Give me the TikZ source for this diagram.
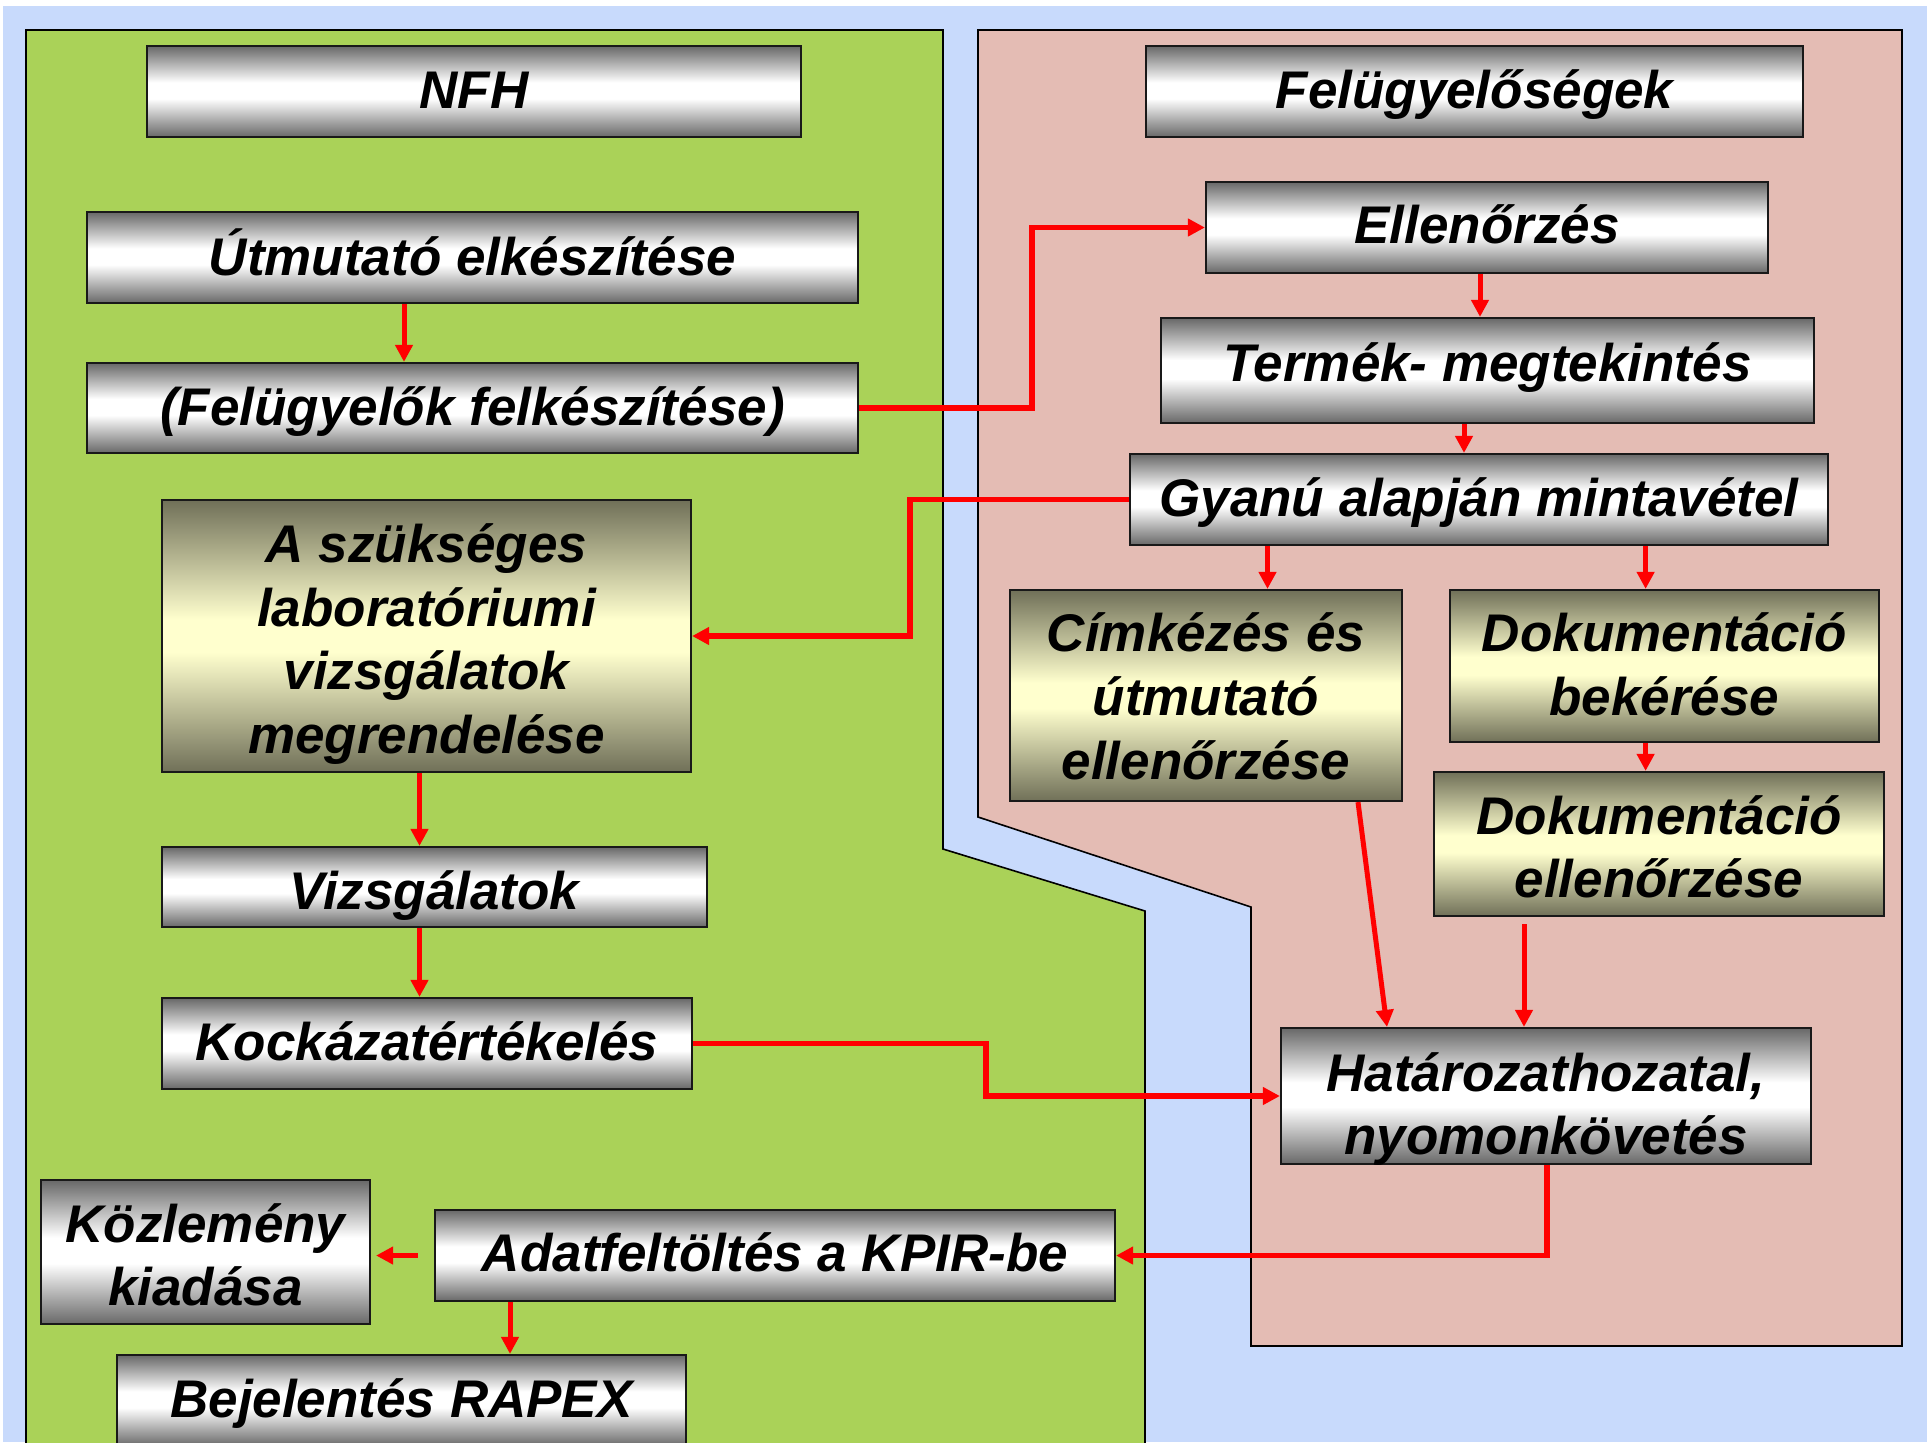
\documentclass[tikz,border=0pt]{standalone}
\usepackage{fontspec}
\setmainfont{Liberation Sans}
\usetikzlibrary{arrows.meta}
\definecolor{bgblue}{RGB}{200,218,252}
\definecolor{panelgreen}{RGB}{170,210,88}
\definecolor{panelpink}{RGB}{228,188,180}
\definecolor{mgray}{RGB}{104,104,104}
\definecolor{molive}{RGB}{112,112,88}
\definecolor{myellow}{RGB}{255,255,206}
\definecolor{arrowred}{RGB}{255,0,0}
\pgfdeclareverticalshading{metal}{100bp}{color(0bp)=(mgray); color(25bp)=(mgray); color(46bp)=(white); color(55bp)=(white); color(75bp)=(mgray); color(100bp)=(mgray)}
\pgfdeclareverticalshading{olivesh}{100bp}{color(0bp)=(molive); color(25bp)=(molive); color(47bp)=(myellow); color(53bp)=(myellow); color(75bp)=(molive); color(100bp)=(molive)}
\tikzset{
  gbox/.style={draw=black!90, line width=1.1pt, inner sep=0pt, shade, shading=metal},
  obox/.style={draw=black!90, line width=1.1pt, inner sep=0pt, shade, shading=olivesh},
  lbl/.style={font=\fontsize{26.5}{32}\selectfont\bfseries\itshape, inner sep=0pt, anchor=base},
  conn/.style={draw=arrowred, line width=2.9pt, -{Triangle[length=8.5pt,width=8.5pt]}},
  thinconn/.style={conn, line width=2.5pt},
  panel/.style={draw=black, line width=0.8pt}
}
\begin{document}
\begin{tikzpicture}[x=0.5pt,y=-0.5pt]
\useasboundingbox (0,0) rectangle (1927,1442);
\clip (0,0) rectangle (1927,1442);
\fill[bgblue] (0,0) rectangle (1927,1442);
\fill[white] (0,0) rectangle (1927,6);
\fill[white] (0,0) rectangle (3,1442);
% panels
\filldraw[panel, fill=panelgreen] (26,30) -- (943,30) -- (943,849) -- (1145,911) -- (1145,1470) -- (26,1470) -- cycle;
\filldraw[panel, fill=panelpink] (978,30) -- (1902,30) -- (1902,1346) -- (1251,1346) -- (1251,907) -- (978,817) -- cycle;
% boxes
\node[gbox, minimum width=327pt, minimum height=45.5pt] (nfh) at (474,91.5) {};
\node[gbox, minimum width=385.5pt, minimum height=45.5pt] (utm) at (472.5,257.5) {};
\node[gbox, minimum width=385.5pt, minimum height=45pt] (felk) at (472.5,408) {};
\node[gbox, minimum width=328.5pt, minimum height=45.5pt] (felseg) at (1474.5,91.5) {};
\node[gbox, minimum width=281pt, minimum height=45.5pt] (ell) at (1487,227.5) {};
\node[gbox, minimum width=326.5pt, minimum height=52.5pt] (term) at (1487.5,370.5) {};
\node[gbox, minimum width=349pt, minimum height=45.5pt] (gyanu) at (1479,499.5) {};
\node[obox, minimum width=264.5pt, minimum height=136pt] (aszuk) at (426.5,636) {};
\node[gbox, minimum width=272.5pt, minimum height=40pt] (vizsg) at (434.5,887) {};
\node[gbox, minimum width=265pt, minimum height=45.5pt] (kock) at (427,1043.5) {};
\node[obox, minimum width=196pt, minimum height=105.5pt] (cimk) at (1206,695.5) {};
\node[obox, minimum width=214.5pt, minimum height=76pt] (dokbek) at (1664.5,666) {};
\node[obox, minimum width=225pt, minimum height=72pt] (dokell) at (1659,844) {};
\node[gbox, minimum width=265pt, minimum height=68pt] (hat) at (1546,1096) {};
\node[gbox, minimum width=340pt, minimum height=45.5pt] (adat) at (775,1255.5) {};
\node[gbox, minimum width=164.5pt, minimum height=72pt] (kozl) at (205.5,1252) {};
\node[gbox, minimum width=284.5pt, minimum height=45.5pt] (bej) at (401.5,1400.5) {};
% texts
\node[lbl] (t-nfh) at (474,108) {NFH};
\node[lbl] (t-utm) at (472.5,275) {Útmutató elkészítése};
\node[lbl] (t-felk) at (472.5,425) {(Felügyelők felkészítése)};
\node[lbl] (t-felseg) at (1474.5,108) {Felügyelőségek};
\node[lbl] (t-ell) at (1487,243) {Ellenőrzés};
\node[lbl] (t-term) at (1487.5,381) {Termék- megtekintés};
\node[lbl] (t-gyanu) at (1479,516) {Gyanú alapján mintavétel};
\node[lbl] (t-aszuk1) at (426.5,562) {A szükséges};
\node[lbl] (t-aszuk2) at (426.5,626) {laboratóriumi};
\node[lbl] (t-aszuk3) at (426.5,689) {vizsgálatok};
\node[lbl] (t-aszuk4) at (426.5,753) {megrendelése};
\node[lbl] (t-vizsg) at (434.5,909) {Vizsgálatok};
\node[lbl] (t-kock) at (427,1060) {Kockázatértékelés};
\node[lbl] (t-cimk1) at (1206,651) {Címkézés és};
\node[lbl] (t-cimk2) at (1206,715) {útmutató};
\node[lbl] (t-cimk3) at (1206,779) {ellenőrzése};
\node[lbl] (t-dokbek1) at (1664.5,651) {Dokumentáció};
\node[lbl] (t-dokbek2) at (1664.5,715) {bekérése};
\node[lbl] (t-dokell1) at (1659,834) {Dokumentáció};
\node[lbl] (t-dokell2) at (1659,897) {ellenőrzése};
\node[lbl] (t-hat1) at (1546,1091) {Határozathozatal,};
\node[lbl] (t-hat2) at (1546,1154) {nyomonkövetés};
\node[lbl] (t-adat) at (775,1271) {Adatfeltöltés a KPIR-be};
\node[lbl] (t-kozl1) at (205.5,1242) {Közlemény};
\node[lbl] (t-kozl2) at (205.5,1305) {kiadása};
\node[lbl] (t-bej) at (401.5,1417) {Bejelentés RAPEX};
% connector x positions
\coordinate (xA) at (404,0);
\coordinate (xB) at (1032,0);
\coordinate (xC) at (1480,0);
\coordinate (xD) at (1464,0);
\coordinate (xE) at (910,0);
\coordinate (xF) at (419.5,0);
\coordinate (xG) at (986,0);
\coordinate (xH) at (1267.5,0);
\coordinate (xI) at (1645.6,0);
\coordinate (xJ) at (1358,0);
\coordinate (xK) at (1387,0);
\coordinate (xL) at (1524,0);
\coordinate (xM) at (1547,0);
\coordinate (xN) at (510,0);
% connectors
\draw[thinconn] (utm.south -| xA) -- (felk.north -| xA);
\draw[conn] (felk.east) -- (felk.east -| xB) |- (ell.west);
\draw[thinconn] (ell.south -| xC) -- (term.north -| xC);
\draw[thinconn] (term.south -| xD) -- (gyanu.north -| xD);
\draw[conn] (gyanu.west) -- (gyanu.west -| xE) |- (aszuk.east);
\draw[thinconn] (aszuk.south -| xF) -- (vizsg.north -| xF);
\draw[thinconn] (vizsg.south -| xF) -- (kock.north -| xF);
\draw[conn] (kock.east) -- (kock.east -| xG) |- (hat.west);
\draw[thinconn] (gyanu.south -| xH) -- (cimk.north -| xH);
\draw[thinconn] (gyanu.south -| xI) -- (dokbek.north -| xI);
\draw[thinconn] (dokbek.south -| xI) -- (dokell.north -| xI);
\draw[thinconn] (cimk.south -| xJ) -- (hat.north -| xK);
\draw[thinconn, shorten <=3.5pt] (dokell.south -| xL) -- (hat.north -| xL);
\draw[conn] (hat.south -| xM) |- (adat.east);
\draw[conn, shorten <=8pt, shorten >=2.5pt] (adat.west) -- (adat.west -| kozl.east);
\draw[thinconn] (adat.south -| xN) -- (bej.north -| xN);
\end{tikzpicture}
\end{document}
